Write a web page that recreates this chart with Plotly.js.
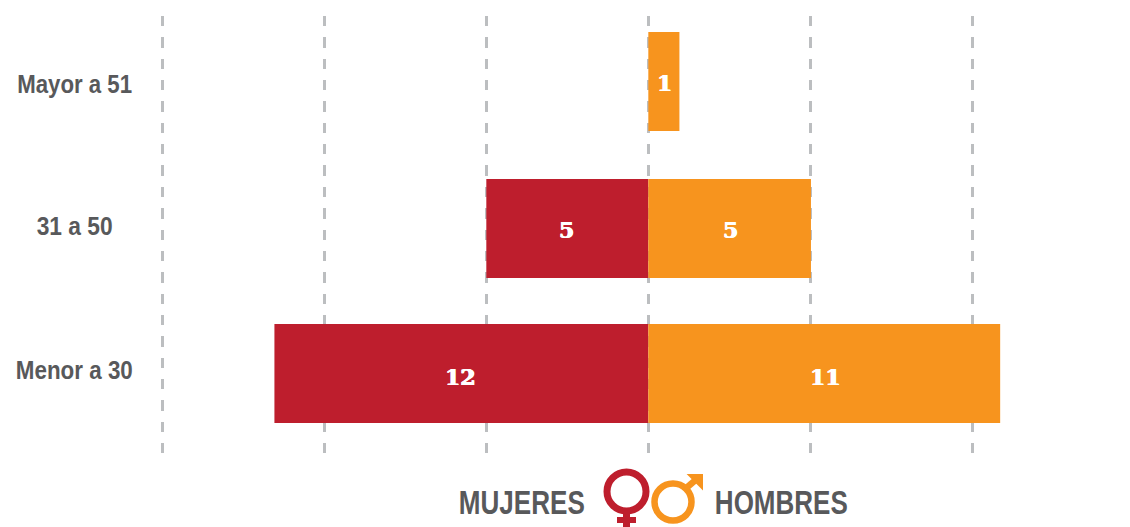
<!DOCTYPE html>
<html>
<head>
<meta charset="utf-8">
<script src="https://cdn.plot.ly/plotly-3.0.1.min.js"></script>
<style>html,body{margin:0;padding:0;background:#fff}#chart{width:1130px;height:527px}</style>
</head>
<body>
<div id="chart"></div>
<script>
var categories = ['Menor a 30', '31 a 50', 'Mayor a 51'];
var mujeresLabels = ['12', '5', ''];
var hombresLabels = ['11', '5', '1'];
// Bar lengths as drawn in the picture, measured against the dashed grid
var mujeresLengths = [11.54, 5, null];
var hombresLengths = [10.86, 5.02, 0.96];
var gridValues = [-15, -10, -5, 0, 5, 10];
var legendLeft = 'MUJERES';
var legendRight = 'HOMBRES';
// Condensed face is not installed: these are the set widths of the labels in the picture
var textWidths = { 'Menor a 30': 117, '31 a 50': 76, 'Mayor a 51': 115, 'MUJERES': 126, 'HOMBRES': 133 };

var RED = '#BE1E2D', ORANGE = '#F7941E', TEXT = '#58595B', GRID = '#BCBEC0';
var W = 1130, H = 527, MT = 16, MB = 73, PH = H - MT - MB;
function px(x) { return x / W; }
function py(y) { return (H - MB - y) / PH; }

var labelFont = { family: '"Liberation Sans", Arial, sans-serif', size: 25, color: TEXT, weight: 700 };
var legendFont = { family: '"Liberation Sans", Arial, sans-serif', size: 33, color: TEXT, weight: 700 };
var valueFont = { family: '"DejaVu Serif", serif', size: 22, color: '#FFFFFF', weight: 700,
  shadow: '0.6px 0 0 #fff, -0.6px 0 0 #fff' };

var barWidth = 0.678;
var barOffset = [-0.339, -0.346, -0.339];
var traces = [
  { type: 'bar', orientation: 'h', name: 'Mujeres', y: categories,
    x: mujeresLengths.map(function (v) { return v === null ? null : -v; }),
    width: barWidth, offset: barOffset,
    marker: { color: RED, line: { width: 0 } }, hoverinfo: 'skip' },
  { type: 'bar', orientation: 'h', name: 'Hombres', y: categories,
    x: hombresLengths, width: barWidth, offset: barOffset,
    marker: { color: ORANGE, line: { width: 0 } }, hoverinfo: 'skip' }
];

var catShift = [3.5, 1.5, -2.5];
var valueShift = [-3, -2.5, -1.5];
var annotations = categories.map(function (c, i) {
  return { xref: 'paper', x: px(74), yref: 'y', y: c, yshift: catShift[i], text: c,
    showarrow: false, xanchor: 'center', yanchor: 'middle', font: labelFont };
});
categories.forEach(function (c, i) {
  if (mujeresLabels[i]) annotations.push({ xref: 'x', x: -mujeresLengths[i] / 2, yref: 'y', y: c, xshift: -1, yshift: valueShift[i],
    text: mujeresLabels[i], showarrow: false, xanchor: 'center', yanchor: 'middle', font: valueFont });
  if (hombresLabels[i]) annotations.push({ xref: 'x', x: hombresLengths[i] / 2, yref: 'y', y: c, xshift: 1, yshift: valueShift[i],
    text: hombresLabels[i], showarrow: false, xanchor: 'center', yanchor: 'middle', font: valueFont });
});
annotations.push({ xref: 'paper', yref: 'paper', x: px(522), y: py(502), text: legendLeft,
  showarrow: false, xanchor: 'center', yanchor: 'middle', font: legendFont });
annotations.push({ xref: 'paper', yref: 'paper', x: px(781.5), y: py(502), text: legendRight,
  showarrow: false, xanchor: 'center', yanchor: 'middle', font: legendFont });

function circle(cx, cy, r, color, w) {
  return { type: 'circle', xref: 'paper', yref: 'paper', x0: px(cx - r), x1: px(cx + r), y0: py(cy + r), y1: py(cy - r),
    line: { color: color, width: w }, fillcolor: 'rgba(0,0,0,0)' };
}
function seg(x0, y0, x1, y1, color, w) {
  return { type: 'line', xref: 'paper', yref: 'paper', x0: px(x0), x1: px(x1), y0: py(y0), y1: py(y1),
    line: { color: color, width: w } };
}
function poly(points, color) {
  var d = points.map(function (p, i) { return (i ? 'L' : 'M') + px(p[0]) + ',' + py(p[1]); }).join(' ') + ' Z';
  return { type: 'path', xref: 'paper', yref: 'paper', path: d, fillcolor: color, line: { color: color, width: 2 } };
}
var shapes = [
  circle(626.5, 491.5, 19.5, RED, 7),
  seg(626.5, 512, 626.5, 527, RED, 7),
  seg(617, 520, 636, 520, RED, 6),
  circle(673, 502, 18.5, ORANGE, 6.5),
  seg(685, 489, 698, 478, ORANGE, 6.5),
  poly([[689, 475], [702, 475], [702, 488]], ORANGE)
];

var layout = {
  width: W, height: H, autosize: false,
  margin: { l: 0, r: 0, t: MT, b: MB, pad: 0 },
  paper_bgcolor: '#FFFFFF', plot_bgcolor: '#FFFFFF',
  barmode: 'relative', showlegend: false,
  xaxis: { range: [-20.01, 14.867], tickmode: 'array', tickvals: gridValues, showticklabels: false, ticks: '',
    showgrid: true, gridcolor: GRID, gridwidth: 3, griddash: '10.35px,11px', zeroline: false, showline: false, fixedrange: true },
  yaxis: { type: 'category', categoryorder: 'array', categoryarray: categories, range: [-0.551, 2.449],
    showticklabels: false, ticks: '', showgrid: false, zeroline: false, showline: false, fixedrange: true },
  annotations: annotations,
  shapes: shapes
};

Plotly.newPlot('chart', traces, layout, { displayModeBar: false, staticPlot: true }).then(function () {
  document.querySelectorAll('#chart .annotation-text').forEach(function (t) {
    var w = textWidths[t.textContent];
    if (w) { t.setAttribute('textLength', w); t.setAttribute('lengthAdjust', 'spacingAndGlyphs'); }
  });
});
</script>
</body>
</html>
